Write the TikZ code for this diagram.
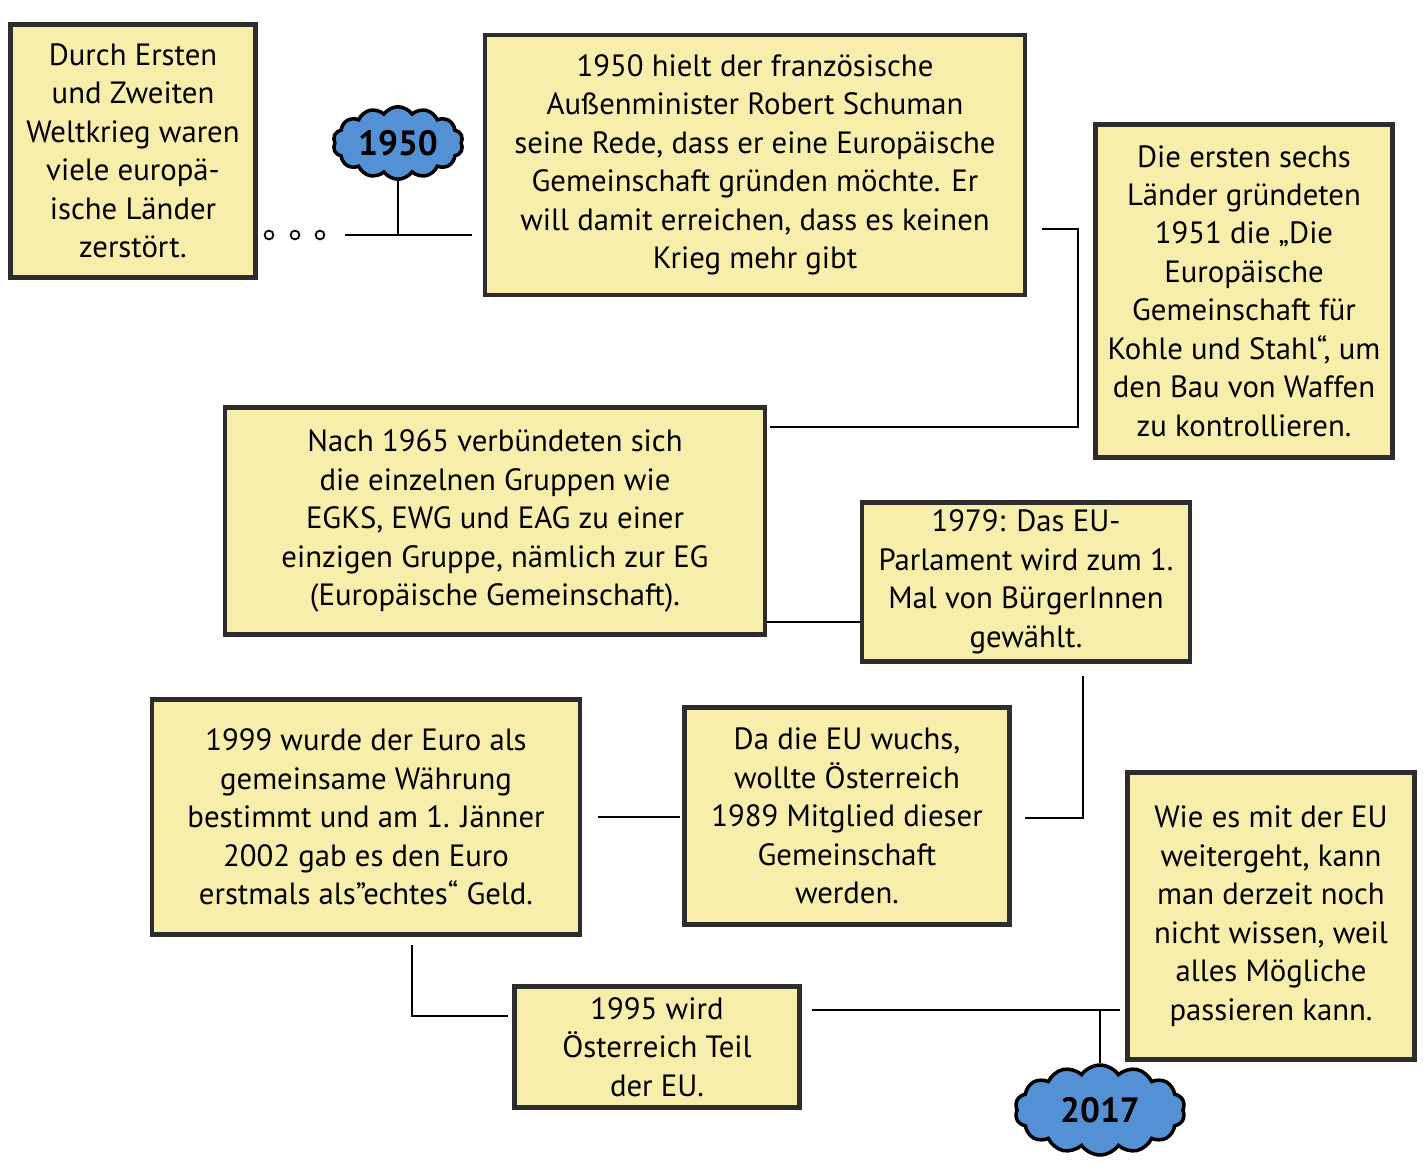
\documentclass[tikz,border=0pt]{standalone}
\usepackage{fontspec}
\setmainfont{PT Sans}
\usetikzlibrary{shapes.symbols}
\definecolor{pencilyellow}{RGB}{246,238,170}
\definecolor{boxline}{RGB}{45,45,45}
\definecolor{cloudblue}{RGB}{84,144,212}

\begin{document}
\begin{tikzpicture}[x=0.02cm, y=-0.02cm,
  infobox/.style={draw=boxline, line width=2.6pt, fill=pencilyellow,
    align=center, inner sep=2pt,
    font=\fontsize{17.5}{21.9}\selectfont},
  yearcloud/.style={cloud, cloud puffs=14, cloud puff arc=110, aspect=2.2,
    draw=black, line width=2pt, fill=cloudblue, inner sep=1pt,
    font=\bfseries\fontsize{20}{22}\selectfont},
  link/.style={draw=black, line width=1.1pt},
  dot/.style={circle, draw=black, line width=1pt, inner sep=0pt, minimum size=5pt}]
  \useasboundingbox (0,0) rectangle (1423,1162);
  \node[infobox, minimum width=4.9cm, minimum height=5.06cm] (krieg) at (133,151)
    {Durch Ersten\\und Zweiten\\Weltkrieg waren\\viele europä-\\ische Länder\\zerstört.};
  \node[infobox, minimum width=10.8cm, minimum height=5.2cm] (schuman) at (755,165)
    {1950 hielt der französische\\Außenminister Robert Schuman\\seine Rede, dass er eine Europäische\\Gemeinschaft gründen möchte. Er\\will damit erreichen, dass es keinen\\Krieg mehr gibt};
  \node[infobox, minimum width=5.94cm, minimum height=6.66cm] (montan) at (1244,291)
    {Die ersten sechs\\Länder gründeten\\1951 die „Die\\Europäische\\Gemeinschaft für\\Kohle und Stahl“, um\\den Bau von Waffen\\zu kontrollieren.};
  \node[infobox, minimum width=10.8cm, minimum height=4.54cm] (eg) at (495,521)
    {Nach 1965 verbündeten sich\\die einzelnen Gruppen wie\\EGKS, EWG und EAG zu einer\\einzigen Gruppe, nämlich zur EG\\(Europäische Gemeinschaft).};
  \node[infobox, minimum width=6.56cm, minimum height=3.18cm] (parlament) at (1026,582)
    {1979: Das EU-\\Parlament wird zum 1.\\Mal von BürgerInnen\\gewählt.};
  \node[infobox, minimum width=8.56cm, minimum height=4.7cm] (euro) at (366,817)
    {1999 wurde der Euro als\\gemeinsame Währung\\bestimmt und am 1. Jänner\\2002 gab es den Euro\\erstmals als”echtes“ Geld.};
  \node[infobox, minimum width=6.5cm, minimum height=4.34cm] (beitritt) at (847,816)
    {Da die EU wuchs,\\wollte Österreich\\1989 Mitglied dieser\\Gemeinschaft\\werden.};
  \node[infobox, minimum width=5.74cm, minimum height=5.74cm] (zukunft) at (1271,916)
    {Wie es mit der EU\\weitergeht, kann\\man derzeit noch\\nicht wissen, weil\\alles Mögliche\\passieren kann.};
  \node[infobox, minimum width=5.7cm, minimum height=2.42cm] (teil) at (657,1047)
    {1995 wird\\Österreich Teil\\der EU.};
  % years
  \node[yearcloud, minimum width=2.6cm, minimum height=1.45cm] (jahrA) at (398,143) {1950};
  \node[yearcloud, minimum width=3.4cm, minimum height=1.8cm] (jahrB) at (1100,1110) {2017};
  % dots
  \node[dot] (punktA) at (269,235) {};
  \node[dot] (punktB) at (295,235) {};
  \node[dot] (punktC) at (320,235) {};
  % connectors
  \coordinate (startA) at (345,235);
  \coordinate (endA) at (472,235);
  \draw[link] (startA) -- (endA);
  \draw[link] (jahrA.south) -- (jahrA.south |- endA);
  \coordinate (startB) at (1042,229);
  \coordinate (eckeB) at (1078,229);
  \coordinate (endB) at (770,427);
  \draw[link] (startB) -- (eckeB) |- (endB);
  \draw[link] (eg.east |- 0,622) -- (parlament.west |- 0,622);
  \coordinate (startC) at (1083,676);
  \coordinate (endC) at (1025,818);
  \draw[link] (startC) |- (endC);
  \coordinate (startD) at (598,817);
  \coordinate (endD) at (680,817);
  \draw[link] (startD) -- (endD);
  \coordinate (startE) at (412,945);
  \coordinate (endE) at (508,1016);
  \draw[link] (startE) |- (endE);
  \coordinate (startF) at (812,1010);
  \coordinate (endF) at (1120,1010);
  \draw[link] (startF) -- (endF);
  \draw[link] (jahrB.north |- endF) -- (jahrB.north);
\end{tikzpicture}
\end{document}
